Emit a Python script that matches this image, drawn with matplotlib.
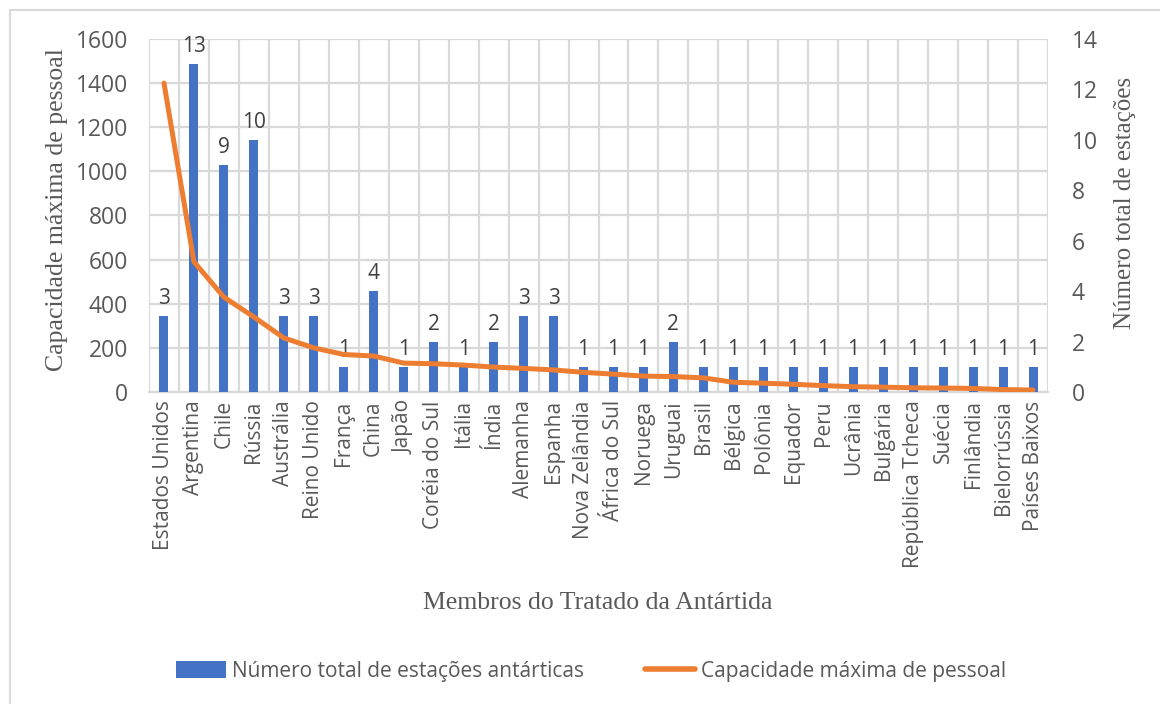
import matplotlib
matplotlib.use("Agg")
import matplotlib.pyplot as plt
from matplotlib.lines import Line2D
from matplotlib.patches import Patch
import numpy as np

# Antarctic Treaty members, stations and maximum personnel capacity
paises = [
    "Estados Unidos", "Argentina", "Chile", "Rússia", "Austrália", "Reino Unido",
    "França", "China", "Japão", "Coréia do Sul", "Itália", "Índia", "Alemanha",
    "Espanha", "Nova Zelândia", "África do Sul", "Noruega", "Uruguai", "Brasil",
    "Bélgica", "Polônia", "Equador", "Peru", "Ucrânia", "Bulgária",
    "República Tcheca", "Suécia", "Finlândia", "Bielorrússia", "Países Baixos",
]
estacoes = [3, 13, 9, 10, 3, 3, 1, 4, 1, 2, 1, 2, 3, 3, 1, 1, 1, 2, 1, 1,
            1, 1, 1, 1, 1, 1, 1, 1, 1, 1]
capacidade = [1400, 590, 430, 340, 245, 200, 170, 163, 131, 128, 122, 113,
              107, 100, 89, 81, 72, 70, 64, 44, 40, 35, 29, 24, 22, 19, 18,
              16, 11, 9]
ticks_capacidade = [0, 200, 400, 600, 800, 1000, 1200, 1400, 1600]
ticks_estacoes = [0, 2, 4, 6, 8, 10, 12, 14]

AZUL = "#4472C4"
LARANJA = "#ED7D31"
GRADE = "#D9D9D9"
TXT = "#595959"
SANS = "Open Sans"
SERIF = "Liberation Serif"

W, H = 1160, 704
fig = plt.figure(figsize=(W / 100, H / 100), dpi=100)
left, right, top, bottom = 149, 1048, 39, 392
axb = fig.add_axes([left / W, 1 - bottom / H, (right - left) / W, (bottom - top) / H])
axl = axb.twinx()

x = np.arange(len(paises))

# bars: number of stations (right axis)
axb.bar(x, estacoes, width=0.3, color=AZUL, zorder=3)
axb.set_ylim(0, 14)
axb.set_xlim(-0.5, len(paises) - 0.5)
for xi, v in zip(x, estacoes):
    axb.annotate(str(v), (xi, v), xytext=(0, 5), textcoords="offset points",
                 ha="center", va="bottom", fontsize=15, color="#404040",
                 family=SANS)

# horizontal grid follows the capacity axis
axb.hlines(ticks_capacidade, -0.5, len(paises) - 0.5, colors=GRADE,
           linewidth=1.6, transform=axl.transData, zorder=1)
axb.vlines(np.arange(len(paises) + 1) - 0.5, 0, 14, colors=GRADE,
           linewidth=1.6, zorder=1)

# line: maximum personnel capacity (left axis)
axl.plot(x, capacidade, color=LARANJA, linewidth=3.6, solid_capstyle="round",
         solid_joinstyle="round", zorder=4)
axl.set_ylim(0, 1600)

# axes placement
axb.yaxis.tick_right()
axl.yaxis.tick_left()
axb.set_yticks(ticks_estacoes)
axl.set_yticks(ticks_capacidade)
axb.set_xticks(x)
axb.set_xticklabels(paises, rotation=90, fontsize=15, color=TXT, family=SANS)
axb.tick_params(axis="x", length=0, pad=6)
axb.tick_params(axis="y", length=0, pad=17, labelsize=16.5, labelcolor=TXT)
axl.tick_params(axis="y", length=0, pad=15, labelsize=16.5, labelcolor=TXT)
for lab in axb.get_yticklabels() + axl.get_yticklabels():
    lab.set_family(SANS)

for a in (axb, axl):
    for s in a.spines.values():
        s.set_visible(False)
axb.spines["bottom"].set_visible(True)
axb.spines["bottom"].set_color(GRADE)
axb.spines["bottom"].set_linewidth(1.6)

# axis titles
fig.text(57 / W, 1 - 210 / H, "Capacidade máxima de pessoal", family=SERIF,
         fontsize=18.5, color=TXT, rotation=90, ha="center", va="center")
fig.text(1125 / W, 1 - 203 / H, "Número total de estações", family=SERIF,
         fontsize=18, color=TXT, rotation=90, ha="center", va="center")
fig.text(598 / W, 1 - 603 / H, "Membros do Tratado da Antártida", family=SERIF,
         fontsize=18.5, color=TXT, ha="center", va="center")

handles = [Patch(facecolor=AZUL, edgecolor="none"),
           Line2D([0], [0], color=LARANJA, linewidth=4, solid_capstyle="round")]
fig.legend(handles, ["Número total de estações antárticas",
                     "Capacidade máxima de pessoal"],
           loc="center", bbox_to_anchor=(591 / W, 1 - 671 / H), ncol=2,
           frameon=False, prop={"family": SANS, "size": 15},
           handlelength=2.4, handleheight=0.9, handletextpad=0.3,
           columnspacing=2.9, labelcolor=TXT)

# chart frame
fig.add_artist(Line2D([9.5 / W, 9.5 / W], [0, 1 - 9.5 / H], transform=fig.transFigure,
                      color=GRADE, linewidth=1.5))
fig.add_artist(Line2D([9.5 / W, 1], [1 - 9.5 / H, 1 - 9.5 / H], transform=fig.transFigure,
                      color=GRADE, linewidth=1.5))

fig.savefig("out.png", dpi=100, facecolor="white")
